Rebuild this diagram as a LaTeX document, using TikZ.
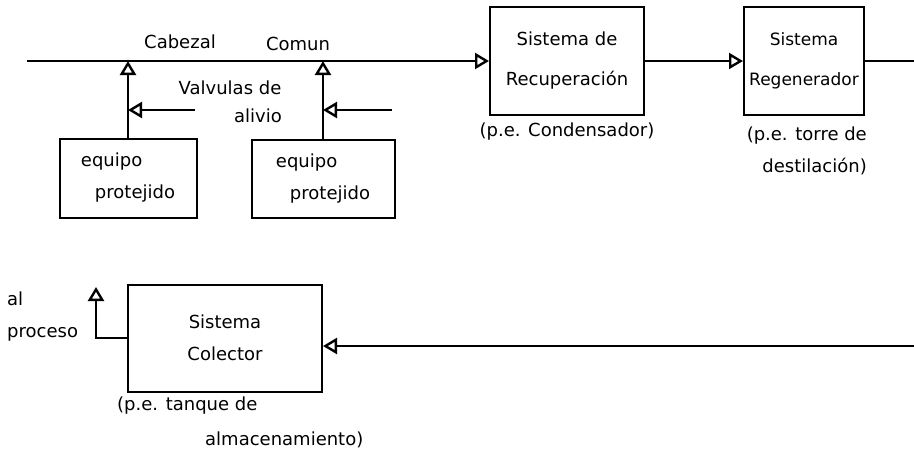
\documentclass[tikz,border=0pt]{standalone}
\usepackage{fontspec}
\setmainfont{DejaVu Sans}
\usetikzlibrary{arrows.meta,positioning}

\begin{document}
\begin{tikzpicture}[
    x=1pt, y=-1pt,
    lbl/.style={font=\fontsize{18}{32}\selectfont, align=center, inner sep=1pt},
    box/.style={lbl, draw, line width=2pt},
    tall/.style={font=\fontsize{18}{40}\selectfont},
    arrow/.style={-{Triangle[open, length=14pt, width=16pt, line width=2.4pt]}, line width=2pt},
    pipe/.style={line width=2pt}
  ]
  \useasboundingbox (0,0) rectangle (914,456);
  \node[box, tall, minimum width=154pt, minimum height=108pt] (rec) at (567,61) {Sistema de\\Recuperación};
  \node[box, font=\fontsize{17}{40}\selectfont, minimum width=120pt, minimum height=108pt] (reg) at (804,61) {Sistema\\Regenerador};
  \node[box, align=left, minimum width=137pt, minimum height=79pt] (eq1) at (128,178) {equipo\\\hspace*{14pt}protejido};
  \node[box, align=left, minimum width=143pt, minimum height=78pt] (eq2) at (323,179) {equipo\\\hspace*{14pt}protejido};
  \node[box, minimum width=194pt, minimum height=107pt] (col) at (225,338) {Sistema\\Colector};

  \coordinate (hdr) at (27,61);
  \coordinate (out) at (914,61);
  \coordinate (v1) at (195,110);
  \coordinate (v2) at (392,110);
  \coordinate (ret) at (96,287);
  \coordinate (in) at (914,346);

  \draw[arrow] (hdr) -- (rec.west);
  \draw[arrow] (rec.east) -- (reg.west);
  \draw[pipe] (reg.east) -- (out);
  \draw[arrow] (eq1.north) -- (eq1.north |- hdr);
  \draw[arrow] (eq2.north) -- (eq2.north |- hdr);
  \draw[arrow] (v1) -- (v1 -| eq1.north);
  \draw[arrow] (v2) -- (v2 -| eq2.north);
  \draw[arrow] (in) -- (in -| col.east);
  \draw[arrow] (col.west) -| (ret);

  \node[lbl] (cab) at (180,42) {Cabezal};
  \node[lbl] (com) at (298,44) {Comun};
  \node[lbl] (valv) at (230,88) {Valvulas de};
  \node[lbl] (aliv) at (258,116) {alivio};
  \node[lbl, below=6pt of rec] (cond) {(p.e. Condensador)};
  \node[lbl, align=right, anchor=north east] (torre) at (868,126) {(p.e. torre de\\destilación)};
  \node[lbl, align=left, anchor=west] (proc) at (6,317) {al\\proceso};
  \node[lbl, align=left, anchor=north west, font=\fontsize{18}{35}\selectfont] (tanq) at (116,396) {(p.e. tanque de\\\hspace*{88pt}almacenamiento)};
\end{tikzpicture}
\end{document}
